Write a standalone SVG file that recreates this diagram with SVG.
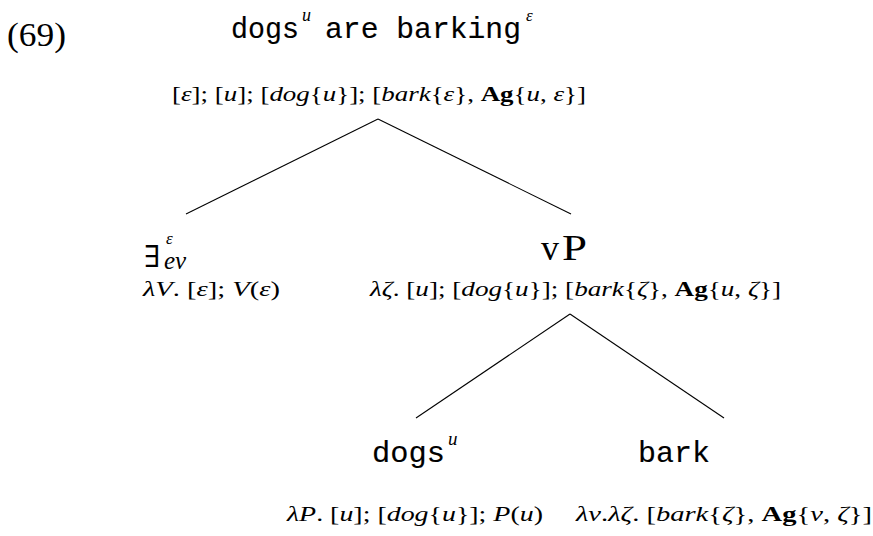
<svg xmlns="http://www.w3.org/2000/svg" width="873" height="536" viewBox="0 0 873 536">
<style>
.m{font-family:"Liberation Serif","DejaVu Serif",serif;font-size:22px;fill:#000}
.i{font-style:italic}
.b{font-weight:bold}
.tt{font-family:"Liberation Mono","DejaVu Sans Mono",monospace;font-size:29px;fill:#000;stroke:#000;stroke-width:0.15}
.big{font-family:"Liberation Serif","DejaVu Serif",serif;font-size:32px;fill:#000}
.sup{font-family:"Liberation Serif","DejaVu Serif",serif;font-style:italic;font-size:19px;fill:#000}
line{stroke:#000;stroke-width:1.1}
</style>
<rect width="873" height="536" fill="#fff"/>
<g id="example-number"><text x="7" y="46" class="big" style="font-size:34px" textLength="59" lengthAdjust="spacingAndGlyphs">(69)</text></g>
<g id="title">
<text x="231" y="38" class="tt" textLength="68" lengthAdjust="spacingAndGlyphs">dogs</text>
<text x="302" y="21" class="sup" style="font-size:18px">u</text>
<text x="325" y="38" class="tt" textLength="196" lengthAdjust="spacingAndGlyphs">are barking</text>
<text x="526" y="21" class="sup" style="font-size:17px">ε</text>
</g>
<g id="connectors">
<line x1="378" y1="119" x2="186" y2="214"/>
<line x1="378" y1="119" x2="571" y2="214"/>
<line x1="570" y1="314" x2="416" y2="418"/>
<line x1="570" y1="314" x2="724" y2="418"/>
</g>
<g id="root">
<text x="172" y="101" class="m" textLength="414" lengthAdjust="spacingAndGlyphs">[<tspan class="i">ε</tspan>]; [<tspan class="i">u</tspan>]; [<tspan class="i">dog</tspan>{<tspan class="i">u</tspan>}]; [<tspan class="i">bark</tspan>{<tspan class="i">ε</tspan>}, <tspan class="b">Ag</tspan>{<tspan class="i">u</tspan>, <tspan class="i">ε</tspan>}]</text>
</g>
<g id="exists">
<text x="144" y="267" class="big" style="font-size:30px">∃</text>
<text x="166" y="244" class="sup" style="font-size:17px">ε</text>
<text x="164" y="269" class="m i" style="font-size:25px">ev</text>
<text x="143" y="296" class="m" textLength="137" lengthAdjust="spacingAndGlyphs"><tspan class="i">λV</tspan>. [<tspan class="i">ε</tspan>]; <tspan class="i">V</tspan>(<tspan class="i">ε</tspan>)</text>
</g>
<g id="vP">
<text x="541" y="260" class="big" style="font-size:36px">v</text>
<text x="562" y="260" class="big" style="font-size:36px" textLength="25" lengthAdjust="spacingAndGlyphs">P</text>
<text x="370" y="296" class="m" textLength="411" lengthAdjust="spacingAndGlyphs"><tspan class="i">λζ</tspan>. [<tspan class="i">u</tspan>]; [<tspan class="i">dog</tspan>{<tspan class="i">u</tspan>}]; [<tspan class="i">bark</tspan>{<tspan class="i">ζ</tspan>}, <tspan class="b">Ag</tspan>{<tspan class="i">u</tspan>, <tspan class="i">ζ</tspan>}]</text>
</g>
<g id="dogs">
<text x="372" y="462" class="tt" textLength="73" lengthAdjust="spacingAndGlyphs">dogs</text>
<text x="448" y="445" class="sup">u</text>
<text x="287" y="521" class="m" textLength="256" lengthAdjust="spacingAndGlyphs"><tspan class="i">λP</tspan>. [<tspan class="i">u</tspan>]; [<tspan class="i">dog</tspan>{<tspan class="i">u</tspan>}]; <tspan class="i">P</tspan>(<tspan class="i">u</tspan>)</text>
</g>
<g id="bark">
<text x="638" y="462" class="tt" textLength="72" lengthAdjust="spacingAndGlyphs">bark</text>
<text x="576" y="521" class="m" textLength="296" lengthAdjust="spacingAndGlyphs"><tspan class="i">λv</tspan>.<tspan class="i">λζ</tspan>. [<tspan class="i">bark</tspan>{<tspan class="i">ζ</tspan>}, <tspan class="b">Ag</tspan>{<tspan class="i">v</tspan>, <tspan class="i">ζ</tspan>}]</text>
</g>
</svg>
